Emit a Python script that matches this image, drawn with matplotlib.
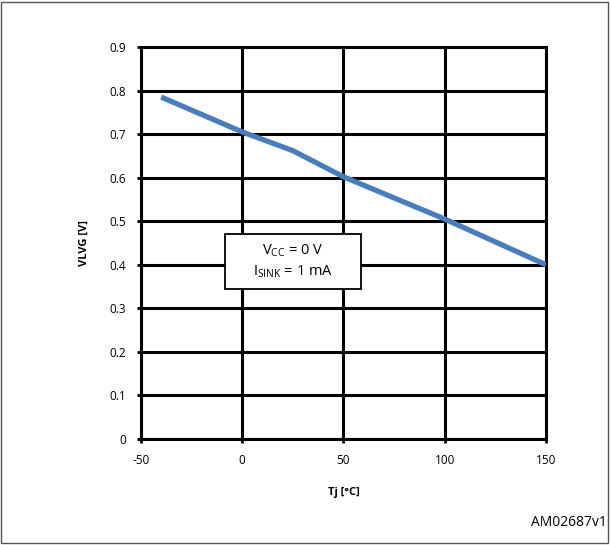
import matplotlib.pyplot as plt
from matplotlib.patches import Rectangle

# Tj in degC, VLVG in V
tj = [-40, 0, 25, 50, 100, 150]
vlvg = [0.785, 0.705, 0.662, 0.602, 0.505, 0.400]

x_ticks = [-50, 0, 50, 100, 150]
y_ticks = [0, 0.1, 0.2, 0.3, 0.4, 0.5, 0.6, 0.7, 0.8, 0.9]
y_labels = ['0', '0.1', '0.2', '0.3', '0.4', '0.5', '0.6', '0.7', '0.8', '0.9']


def plot():
    plt.rcParams['font.family'] = ['Open Sans', 'DejaVu Sans']
    plt.rcParams['axes.unicode_minus'] = False
    fig = plt.figure(figsize=(6.1, 5.45), dpi=100)
    ax = fig.add_axes([0.231, 0.1945, 0.664, 0.7193])

    ax.plot(tj, vlvg, color='#4a7ebb', linewidth=3.8, solid_capstyle='butt', zorder=3)

    ax.set_xlim(-50, 150)
    ax.set_ylim(0, 0.9)
    ax.set_xticks(x_ticks)
    ax.set_yticks(y_ticks)
    ax.set_yticklabels(y_labels)
    ax.grid(True, color='black', linewidth=2.2)
    for s in ax.spines.values():
        s.set_linewidth(2.2)
    ax.tick_params(direction='out', length=3, width=2, labelsize=8.5, pad=8)
    ax.set_axisbelow(True)

    ax.set_xlabel('Tj [°C]', fontsize=8, fontweight='bold', labelpad=14)
    ax.set_ylabel('VLVG [V]', fontsize=8, fontweight='bold', labelpad=14)

    # annotation box
    ax.add_patch(Rectangle((-8.5, 0.344), 67.1, 0.127, facecolor='white',
                           edgecolor='black', linewidth=1.3, zorder=4))
    ax.text(25, 0.408, 'V$_{\\mathregular{CC}}$ = 0 V\nI$_{\\mathregular{SINK}}$ = 1 mA',
            ha='center', va='center', fontsize=10.5, zorder=5, linespacing=1.3)

    fig.text(0.995, 0.028, 'AM02687v1', ha='right', va='bottom', fontsize=10)
    fig.patches.append(Rectangle((0.002, 0.003), 0.994, 0.994, transform=fig.transFigure,
                                 fill=False, edgecolor='#555555', linewidth=1))

    fig.savefig('out.png', dpi=100)


def main():
    plot()


if __name__ == "__main__":
    main()
